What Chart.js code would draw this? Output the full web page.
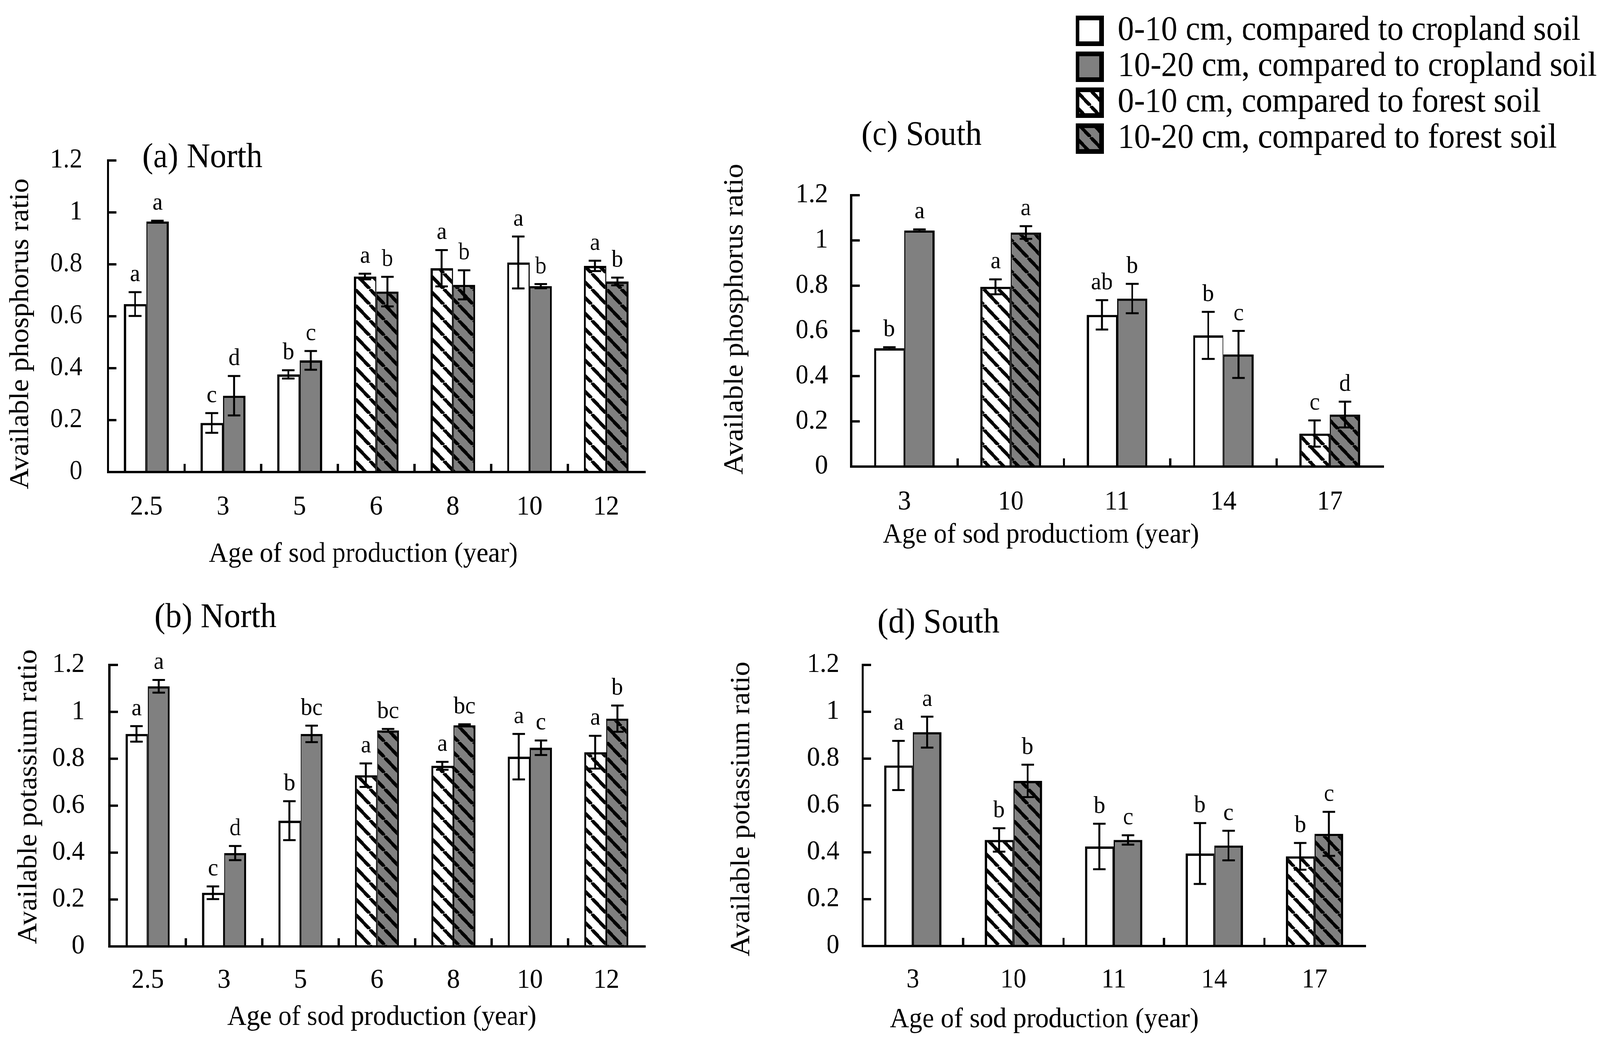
<!DOCTYPE html>
<html>
<head>
<meta charset="utf-8">
<script src="https://cdn.jsdelivr.net/npm/chart.js@4.4.1/dist/chart.umd.min.js"></script>
<style>
  html, body { margin: 0; background: #fff; overflow: hidden; }
  #page { position: absolute; left: 0; top: 0; width: 4327px; height: 2679px; transform-origin: 0 0; }
  canvas { position: absolute; }
</style>
</head>
<body>
<div id="page">
  <canvas id="chartA" width="1800" height="1200" style="left:0;top:300px"></canvas>
  <canvas id="chartB" width="1800" height="1179" style="left:0;top:1500px"></canvas>
  <canvas id="chartC" width="2000" height="1150" style="left:1900px;top:300px"></canvas>
  <canvas id="chartD" width="2000" height="1179" style="left:1900px;top:1500px"></canvas>
  <canvas id="legend" width="1418" height="860" style="left:2909px;top:31px"></canvas>
</div>
<script>
// ---- data ----
const northAges = ['2.5', '3', '5', '6', '8', '10', '12'];
const southAges = ['3', '10', '11', '14', '17'];
// which reference soil each age is compared to
const northRef = ['crop', 'crop', 'crop', 'forest', 'forest', 'crop', 'forest'];
const southRef = ['crop', 'forest', 'crop', 'crop', 'forest'];
const yTicks = [0, 0.2, 0.4, 0.6, 0.8, 1, 1.2];

// (a) phosphorus, north
const pNorthTop = [0.647, 0.189, 0.376, 0.753, 0.785, 0.807, 0.794];
const pNorthTopErr = [0.046, 0.038, 0.016, 0.011, 0.07, 0.1, 0.02];
const pNorthSub = [0.965, 0.294, 0.43, 0.695, 0.721, 0.716, 0.734];
const pNorthSubErr = [0.003, 0.076, 0.036, 0.057, 0.056, 0.008, 0.015];
const pNorthTopLet = ['a', 'c', 'b', 'a', 'a', 'a', 'a'];
const pNorthSubLet = ['a', 'd', 'c', 'b', 'b', 'b', 'b'];

// (b) potassium, north
const kNorthTop = [0.906, 0.229, 0.536, 0.73, 0.77, 0.809, 0.828];
const kNorthTopErr = [0.033, 0.027, 0.083, 0.05, 0.017, 0.097, 0.07];
const kNorthSub = [1.109, 0.398, 0.906, 0.921, 0.943, 0.847, 0.971];
const kNorthSubErr = [0.027, 0.03, 0.035, 0.006, 0.004, 0.031, 0.056];
const kNorthTopLet = ['a', 'c', 'b', 'a', 'a', 'a', 'a'];
const kNorthSubLet = ['a', 'd', 'bc', 'bc', 'bc', 'c', 'b'];

// (c) phosphorus, south
const pSouthTop = [0.523, 0.795, 0.671, 0.58, 0.146];
const pSouthTopErr = [0.005, 0.033, 0.065, 0.104, 0.058];
const pSouthSub = [1.044, 1.035, 0.743, 0.496, 0.23];
const pSouthSubErr = [0.005, 0.028, 0.065, 0.104, 0.057];
const pSouthTopLet = ['b', 'a', 'ab', 'b', 'c'];
const pSouthSubLet = ['a', 'a', 'b', 'c', 'd'];

// (d) potassium, south
const kSouthTop = [0.771, 0.453, 0.425, 0.395, 0.383];
const kSouthTopErr = [0.105, 0.05, 0.097, 0.13, 0.057];
const kSouthSub = [0.913, 0.705, 0.453, 0.429, 0.479];
const kSouthSubErr = [0.066, 0.069, 0.02, 0.063, 0.094];
const kSouthTopLet = ['a', 'b', 'b', 'b', 'b'];
const kSouthSubLet = ['a', 'b', 'c', 'c', 'c'];

const legendLabels = [
  '0-10 cm, compared to cropland soil',
  '10-20 cm, compared to cropland soil',
  '0-10 cm, compared to forest soil',
  '10-20 cm, compared to forest soil'
];

// the layout is drawn on a 4327 px wide page; squeeze it if the window is narrower
const sx = Math.min(1, window.innerWidth / 4327);
document.getElementById('page').style.transform = 'scale(' + sx + ', 1)';

// ---- styles ----
const SERIF = "'Liberation Serif', 'Times New Roman', serif";
const GRAY = '#808080';

function hatch(bg) {
  const P = 40, c = document.createElement('canvas');
  c.width = P; c.height = P;
  const g = c.getContext('2d');
  g.fillStyle = bg; g.fillRect(0, 0, P, P);
  g.strokeStyle = '#000'; g.lineWidth = 9;
  g.beginPath();
  for (const k of [-P, 0, P]) { g.moveTo(k, 0); g.lineTo(k + P, P); }
  g.stroke();
  return g.createPattern(c, 'repeat');
}
const hatchWhite = hatch('#fff');
const hatchGray = hatch(GRAY);

const fills = (ref, deep) => ref.map(r =>
  r === 'forest' ? (deep ? hatchGray : hatchWhite) : (deep ? GRAY : '#fff'));

// error bars, letters, inside ticks, axis lines and the panel tag
const decor = {
  id: 'panelDecor',
  afterDatasetsDraw(chart, args, opts) {
    const { ctx, chartArea: a, scales: { x, y } } = chart;
    ctx.save();
    ctx.strokeStyle = '#000';
    ctx.fillStyle = '#000';
    chart.data.datasets.forEach((ds, di) => {
      chart.getDatasetMeta(di).data.forEach((bar, i) => {
        const v = ds.data[i], e = ds.err[i];
        const hi = y.getPixelForValue(v + e), lo = y.getPixelForValue(v - e);
        ctx.lineWidth = 5;
        ctx.beginPath();
        ctx.moveTo(bar.x, hi); ctx.lineTo(bar.x, lo);
        ctx.moveTo(bar.x - 17, hi); ctx.lineTo(bar.x + 17, hi);
        ctx.moveTo(bar.x - 17, lo); ctx.lineTo(bar.x + 17, lo);
        ctx.stroke();
        ctx.font = '62px ' + SERIF;
        ctx.textAlign = 'center';
        ctx.textBaseline = 'alphabetic';
        ctx.fillText(ds.letters[i], bar.x, hi - 28);
      });
    });

    ctx.lineWidth = 6;
    ctx.lineCap = 'square';
    ctx.beginPath();
    ctx.moveTo(a.left, a.top); ctx.lineTo(a.left, a.bottom); ctx.lineTo(a.right, a.bottom);
    y.ticks.forEach(t => {
      const py = y.getPixelForValue(t.value);
      ctx.moveTo(a.left, py); ctx.lineTo(a.left + 20, py);
    });
    for (let i = 1; i < x.ticks.length; i++) {
      const px = (x.getPixelForTick(i - 1) + x.getPixelForTick(i)) / 2;
      ctx.moveTo(px, a.bottom); ctx.lineTo(px, a.bottom - 18);
    }
    ctx.stroke();

    ctx.font = '88px ' + SERIF;
    ctx.textAlign = 'left';
    ctx.textBaseline = 'middle';
    ctx.fillText(opts.text, opts.x, opts.y);
    ctx.restore();
  }
};

// axis titles in the figure are not centred on the plot: nudge them
const titleShift = {
  id: 'titleShift',
  afterLayout(chart, args, opts) {
    const shift = (scale, dx, dy) => {
      if (scale._shifted) return;
      const base = scale.drawTitle;
      scale.drawTitle = function () {
        this.ctx.save();
        this.ctx.translate(dx, dy);
        base.call(this);
        this.ctx.restore();
      };
      scale._shifted = true;
    };
    shift(chart.scales.x, opts.dx || 0, 0);
    shift(chart.scales.y, 0, opts.dy || 0);
  }
};

function panel(id, o) {
  const tickFont = { family: SERIF, size: 70 };
  return new Chart(document.getElementById(id), {
    type: 'bar',
    data: {
      labels: o.labels,
      datasets: [
        { label: '0-10 cm', data: o.top, err: o.topErr, letters: o.topLet,
          backgroundColor: fills(o.ref, false), borderColor: '#000', borderSkipped: false,
          borderWidth: { top: 6, left: 6, right: 3, bottom: 0 } },
        { label: '10-20 cm', data: o.sub, err: o.subErr, letters: o.subLet,
          backgroundColor: fills(o.ref, true), borderColor: '#000', borderSkipped: false,
          borderWidth: { top: 6, left: 3, right: 6, bottom: 0 } }
      ]
    },
    options: {
      responsive: false, animation: false, devicePixelRatio: 1,
      layout: { padding: { left: 0, right: o.padR, top: o.padT, bottom: 0 } },
      datasets: { bar: { categoryPercentage: o.cat, barPercentage: 1 } },
      plugins: {
        legend: { display: false },
        tooltip: { enabled: false },
        panelDecor: { text: o.tag, x: o.tagX, y: o.tagY },
        titleShift: { dx: o.xShift, dy: o.yShift }
      },
      scales: {
        x: {
          grid: { display: false, drawTicks: false }, border: { display: false },
          ticks: { font: tickFont, color: '#000', padding: o.xPad, autoSkip: false, maxRotation: 0 },
          title: { display: true, text: o.xTitle, font: { family: SERIF, size: 72 }, color: '#000',
                   padding: { top: 0, bottom: o.xTitlePad } },
          afterFit(s) { s.height = o.xH; }
        },
        y: {
          min: 0, max: 1.2,
          grid: { display: false, drawTicks: false }, border: { display: false },
          afterBuildTicks(s) { s.ticks = yTicks.map(v => ({ value: v })); },
          ticks: { font: tickFont, color: '#000', padding: o.yPad, callback: v => String(v) },
          title: { display: true, text: o.yTitle, font: { family: SERIF, size: 74 }, color: '#000',
                   padding: { top: o.yTitlePad, bottom: 0 } },
          afterFit(s) { s.width = o.yW; }
        }
      }
    },
    plugins: [decor, titleShift]
  });
}

panel('chartA', {
  labels: northAges, ref: northRef,
  top: pNorthTop, topErr: pNorthTopErr, topLet: pNorthTopLet,
  sub: pNorthSub, subErr: pNorthSubErr, subLet: pNorthSubLet,
  tag: '(a) North', tagX: 385, tagY: 105,
  xTitle: 'Age of sod production (year)', xTitlePad: 37, xPad: 49, xH: 291, xShift: -35,
  yTitle: 'Available phosphorus ratio', yTitlePad: 12, yPad: 69, yW: 292, yShift: 45,
  padR: 57, padT: 92, cat: 0.585
});

panel('chartB', {
  labels: northAges, ref: northRef,
  top: kNorthTop, topErr: kNorthTopErr, topLet: kNorthTopLet,
  sub: kNorthSub, subErr: kNorthSubErr, subLet: kNorthSubLet,
  tag: '(b) North', tagX: 418, tagY: 83,
  xTitle: 'Age of sod production (year)', xTitlePad: 30, xPad: 46, xH: 255, xShift: 13,
  yTitle: 'Available potassium ratio', yTitlePad: 34, yPad: 67, yW: 296, yShift: -23,
  padR: 57, padT: 203, cat: 0.58
});

panel('chartC', {
  labels: southAges, ref: southRef,
  top: pSouthTop, topErr: pSouthTopErr, topLet: pSouthTopLet,
  sub: pSouthSub, subErr: pSouthSubErr, subLet: pSouthSubLet,
  tag: '(c) South', tagX: 430, tagY: 48,
  xTitle: 'Age of sod productiom (year)', xTitlePad: 36, xPad: 50, xH: 255, xShift: -206,
  yTitle: 'Available phosphorus ratio', yTitlePad: 44, yPad: 63, yW: 402, yShift: -30,
  padR: 160, padT: 200, cat: 0.57
});

panel('chartD', {
  labels: southAges, ref: southRef,
  top: kSouthTop, topErr: kSouthTopErr, topLet: kSouthTopLet,
  sub: kSouthSub, subErr: kSouthSubErr, subLet: kSouthSubLet,
  tag: '(d) South', tagX: 473, tagY: 97,
  xTitle: 'Age of sod production (year)', xTitlePad: 24, xPad: 46, xH: 256, xShift: -188,
  yTitle: 'Available potassium ratio', yTitlePad: 62, yPad: 63, yW: 433, yShift: 9,
  padR: 209, padT: 203, cat: 0.57
});

// shared legend
const legendFills = ['#fff', GRAY, hatchWhite, hatchGray];
new Chart(document.getElementById('legend'), {
  type: 'bar',
  data: {
    labels: [],
    datasets: legendLabels.map((t, i) => ({
      label: t, data: [], backgroundColor: legendFills[i], borderColor: '#000', borderWidth: 12
    }))
  },
  options: {
    responsive: false, animation: false, devicePixelRatio: 1,
    layout: { padding: 0 },
    scales: { x: { display: false }, y: { display: false } },
    plugins: {
      tooltip: { enabled: false },
      legend: {
        position: 'top', align: 'start',
        labels: { boxWidth: 66, boxHeight: 66, padding: 4, color: '#000', font: { family: SERIF, size: 88 } }
      }
    }
  }
});
</script>
</body>
</html>
